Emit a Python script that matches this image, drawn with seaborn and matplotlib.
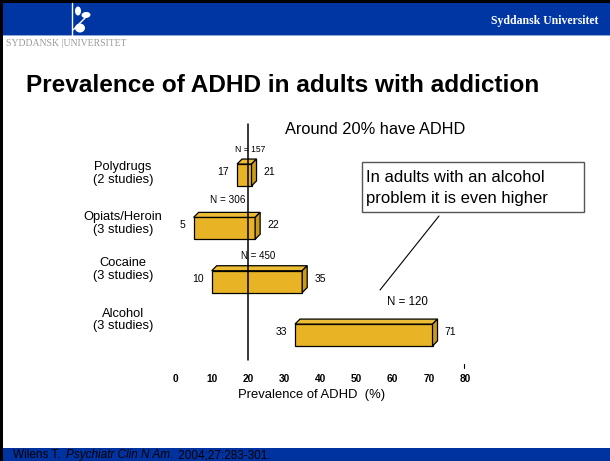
import matplotlib
matplotlib.use("Agg")
import numpy as np
import seaborn as sns
from matplotlib import pyplot as plt
from matplotlib.patches import Rectangle, Polygon, Ellipse
from matplotlib.lines import Line2D

categories = ["Polydrugs", "Opiats/Heroin", "Cocaine", "Alcohol"]
studies = ["(2 studies)", "(3 studies)", "(3 studies)", "(3 studies)"]
low = [17, 5, 10, 33]
high = [21, 22, 35, 71]
n_patients = [157, 306, 450, 120]
ticks = [0, 10, 20, 30, 40, 50, 60, 70, 80]

W, H = 610, 461
GOLD = "#E8B324"
GOLD_TOP = "#EDBC35"
GOLD_SIDE = "#C99A1A"
BLUE = "#0036A4"

sns.set_style("white")
ARIAL = ["Liberation Sans", "DejaVu Sans"]
plt.rcParams["font.family"] = ARIAL
plt.rcParams["text.color"] = "black"
plt.rcParams["xtick.color"] = "black"


def px(x, y):
    # pixel position (top-left origin) -> figure fraction
    return x / W, 1 - y / H


fig = plt.figure(figsize=(W / 100, H / 100), dpi=100)
fig.patch.set_facecolor("white")

# plot area: x=0 at 175.5 px, x=80 at 465 px; rows from 148.3 to 361.7 px
ax_l, ax_r, ax_t, ax_b = 175.5, 465.1, 148.3, 361.7
ax = fig.add_axes([ax_l / W, 1 - ax_b / H, (ax_r - ax_l) / W, (ax_b - ax_t) / H])
ax.patch.set_alpha(0)

sns.barplot(x=high, y=categories, orient="h", color=GOLD, saturation=1,
            width=0.41, edgecolor="black", linewidth=0.9, ax=ax)
ax.set_xlim(0, 80)
ax.set_ylim(3.5, -0.5)

# floating bars: start at the low value
for patch, lo, hi in zip(ax.patches, low, high):
    patch.set_x(lo)
    patch.set_width(hi - lo)
    patch.set_zorder(3)

# 3d look: depth of 5 px up and right
ux = 80 / (ax_r - ax_l)
uy = 4 / (ax_b - ax_t)
dx, dy = 5 * ux, -5 * uy
for patch in ax.patches[:len(categories)]:
    x0, y0 = patch.get_x(), patch.get_y()
    x1 = x0 + patch.get_width()
    y1 = y0 + patch.get_height()
    top = Polygon([(x0, y0), (x0 + dx, y0 + dy), (x1 + dx, y0 + dy), (x1, y0)],
                  closed=True, facecolor=GOLD_TOP, edgecolor="black", lw=0.9, zorder=3)
    side = Polygon([(x1, y0), (x1 + dx, y0 + dy), (x1 + dx, y1 + dy), (x1, y1)],
                   closed=True, facecolor=GOLD_SIDE, edgecolor="black", lw=0.9, zorder=3)
    ax.add_patch(top)
    ax.add_patch(side)

# reference line at 20 %
ax.plot([20, 20], [-0.5 - 24.3 * uy, 3.5 - 1.7 * uy], color="black", lw=1.1,
        zorder=5, clip_on=False)

# value labels
for i, (lo, hi) in enumerate(zip(low, high)):
    ax.annotate(str(lo), xy=(lo, i), xytext=(-8, 3), textcoords="offset pixels",
                ha="right", va="center", fontsize=7.5)
    ax.annotate(str(hi), xy=(hi, i), xytext=(12, 3), textcoords="offset pixels",
                ha="left", va="center", fontsize=7.5)

# sample sizes
n_x = [20.6, 14.5, 22.9, 64]
n_off = [15, 17, 15, 22]
n_size = [6.2, 7.2, 7.0, 8.3]
for i, n in enumerate(n_patients):
    ax.annotate(f"N = {n}", xy=(n_x[i], i - 0.205), xytext=(0, n_off[i]),
                textcoords="offset pixels", ha="center", va="center",
                fontsize=n_size[i])

ax.set_xticks(ticks)
ax.set_xticklabels([str(t) for t in ticks], fontsize=7.3, fontweight="bold")
ax.tick_params(axis="x", length=0, pad=8.5)
ax.set_yticks([])
ax.set_ylabel("")
ax.set_xlabel("")
sns.despine(ax=ax, left=True, bottom=True)

# small tick at 80
fig.add_artist(Line2D([463.5 / W] * 2, [1 - 364 / H, 1 - 368 / H], color="black", lw=0.8))

# category labels
label_y = [173.5, 223.5, 269.5, 320]
for cat, st, yy in zip(categories, studies, label_y):
    fig.text(*px(123, yy), f"{cat}\n{st}", ha="center", va="center",
             fontsize=9.3, linespacing=1.1)

fig.text(*px(312, 395), "Prevalence of ADHD  (%)", ha="center", va="center",
         fontsize=9.4)

# title and notes
fig.text(*px(26, 86), "Prevalence of ADHD in adults with addiction", ha="left",
         va="center", fontsize=17.6, fontweight="bold")
fig.text(*px(285, 129), "Around 20% have ADHD", ha="left", va="center", fontsize=11.8)

fig.add_artist(Rectangle(px(362, 212), 222 / W, 50 / H, facecolor="white",
                         edgecolor="#555555", lw=1.0))
fig.text(*px(366, 177), "In adults with an alcohol", ha="left", va="center", fontsize=12)
fig.text(*px(366, 199), "problem it is even higher", ha="left", va="center", fontsize=12)
fig.add_artist(Line2D([439 / W, 380 / W], [1 - 216 / H, 1 - 290 / H], color="black", lw=0.8))

# slide frame: header, footer, borders
fig.add_artist(Rectangle((0, 1 - 35 / H), 1, 32 / H, facecolor=BLUE, edgecolor="none"))
fig.add_artist(Rectangle((0, 1 - 36.5 / H), 1, 1.5 / H, facecolor="#8EA6D9", edgecolor="none"))
fig.add_artist(Rectangle((0, 1 - 3 / H), 1, 3 / H, facecolor="black", edgecolor="none"))
fig.add_artist(Rectangle((0, 0), 3 / W, 1, facecolor="black", edgecolor="none"))
fig.add_artist(Rectangle((3 / W, 0), 1, 13 / H, facecolor="#0033A0", edgecolor="none"))
fig.text(*px(598, 21), "Syddansk Universitet", ha="right", va="center", fontsize=8.5,
         fontweight="bold", color="white", family=["Liberation Serif", "DejaVu Serif"])
fig.text(*px(6, 44), "SYDDANSK |UNIVERSITET", ha="left", va="center", fontsize=7,
         color="#9A9A9A", family=["Liberation Serif", "DejaVu Serif"])
fig.add_artist(Line2D([72 / W] * 2, [1 - 3 / H, 1 - 48 / H], color="white", lw=1.0))
for cx, cy, ew, eh, ang in [(78, 11, 6, 9, 0), (86, 15, 9, 6, 20), (80, 28, 10, 9, 0)]:
    fig.add_artist(Ellipse(px(cx, cy), ew / W, eh / H, angle=ang, facecolor="white",
                           edgecolor="none"))
fig.add_artist(Line2D([73 / W, 86 / W], [1 - 30 / H, 1 - 17 / H], color="white", lw=1.0))

# citation, laid out piece by piece
renderer = fig.canvas.get_renderer()
x_cur = 13
for piece, st in [("Wilens T. ", "normal"), ("Psychiatr Clin N Am.", "italic"),
                  (" 2004;27:283-301.", "normal")]:
    t = fig.text(*px(x_cur, 455), piece, ha="left", va="center", fontsize=8.5, style=st)
    x_cur += t.get_window_extent(renderer).width + 2

fig.savefig("out.png", dpi=100)
